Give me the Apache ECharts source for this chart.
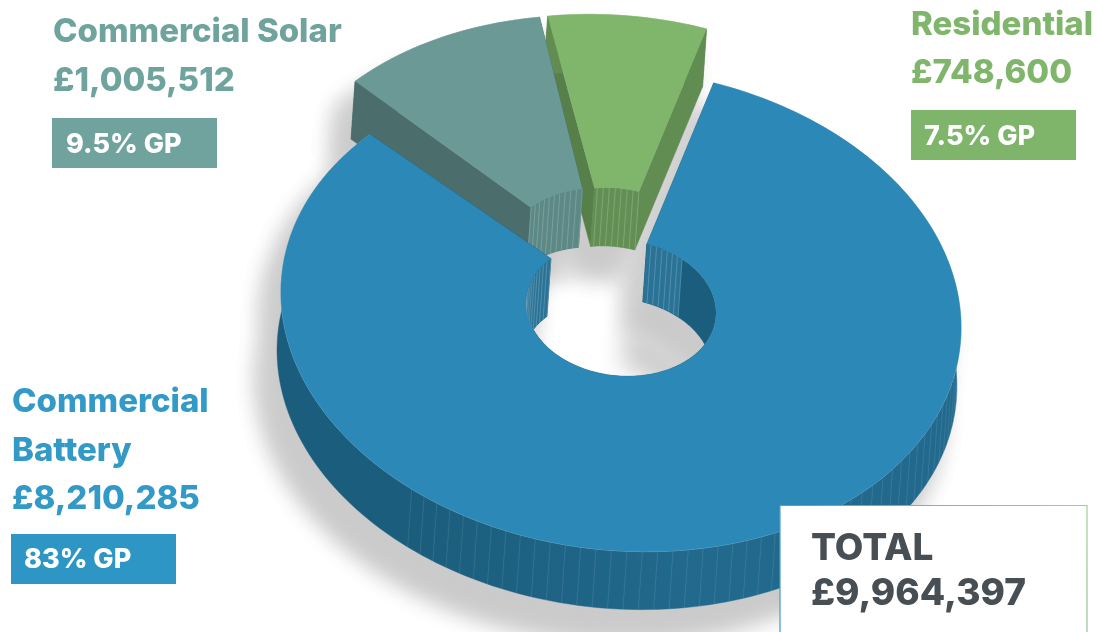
<!DOCTYPE html>
<html>
<head>
<meta charset="utf-8">
<style>html,body{margin:0;padding:0;background:#fff}#chart{width:1097px;height:632px}</style>
<script src="https://cdn.jsdelivr.net/npm/echarts@6/dist/echarts.min.js"></script>
</head>
<body>
<div id="chart"></div>
<script>
// Revenue per sector and its gross profit
const categories = ['Commercial Battery', 'Commercial Solar', 'Residential'];
const revenue = [8210285, 1005512, 748600];
const grossProfit = ['83% GP', '9.5% GP', '7.5% GP'];
const totalLabel = 'TOTAL';

const palette = [
  { top: '#2b88b7', wallA: '#1b5d7c', wallB: '#21698d', side: '#1b5d7c', inner: '#2a7396', rim: '#6fb0cf', text: '#339ac7', box: '#2e96c4' },
  { top: '#6b9995', wallA: '#4b6e6c', wallB: '#4b6e6c', side: '#4b6e6c', inner: '#5c8886', rim: '#9cc0bc', text: '#6fa39d', box: '#70a39d' },
  { top: '#80b56c', wallA: '#618d53', wallB: '#618d53', side: '#567f49', inner: '#638f55', rim: '#a6d094', text: '#80b56c', box: '#7eb56b' }
];

// Projected ring geometry
const view = { cx: 621, cy: 310, rx: 340, ry: 241, holeCy: 308, holeRx: 95, holeRy: 68, shear: 0.052, startDeg: 74.2, depthX: -4, depthY: 58 };
const pull = [
  { ox: 0, oy: 0, ix: 0, iy: 0 },
  { ox: -15, oy: -53, ix: -20, iy: -51 },
  { ox: -7, oy: -54, ix: -8, iy: -52 }
];
const shadowOffset = { x: -17, y: 28 };
const hatch = [
  { outer: [[-128, 0]], inner: [[50, 74.2], [137.5, 218]] },
  { outer: [], inner: [[101.3, 137.5]] },
  { outer: [], inner: [[74.2, 101.3]] }
];

const total = revenue.reduce((a, b) => a + b, 0);
const money = v => '£' + v.toLocaleString('en-GB');

function sweep(i) {
  let used = 0;
  for (let k = 0; k < i; k++) used += revenue[k];
  const hi = view.startDeg - used / total * 360;
  return [hi - revenue[i] / total * 360, hi];
}
function ringPoint(deg, outer, p, shiftX, shiftY) {
  const t = deg * Math.PI / 180;
  const dx = (outer ? view.rx : view.holeRx) * Math.cos(t);
  const dy = -(outer ? view.ry : view.holeRy) * Math.sin(t);
  return [
    view.cx + dx + (outer ? p.ox : p.ix) + (shiftX || 0),
    (outer ? view.cy : view.holeCy) + dx * view.shear + dy + (outer ? p.oy : p.iy) + (shiftY || 0)
  ];
}
function arc(from, to, outer, p, sx, sy) {
  const n = Math.max(2, Math.ceil(Math.abs(to - from) / 1.5));
  const pts = [];
  for (let j = 0; j <= n; j++) pts.push(ringPoint(from + (to - from) * j / n, outer, p, sx, sy));
  return pts;
}
const band = (a, b, outer, p) => arc(a, b, outer, p).concat(arc(b, a, outer, p, view.depthX, view.depthY));
const face = (a, b, p, sx, sy) => arc(a, b, true, p, sx, sy).concat(arc(b, a, false, p, sx, sy));
function radial(deg, p) {
  const o = ringPoint(deg, true, p), n = ringPoint(deg, false, p);
  const d = q => [q[0] + view.depthX, q[1] + view.depthY];
  return [o, n, d(n), d(o)];
}
function hatchLines(range, outer, p, step, color, width) {
  const out = [];
  for (let deg = range[0]; deg <= range[1]; deg += step) {
    const a = ringPoint(deg, outer, p);
    const b = ringPoint(deg, outer, p, view.depthX, view.depthY);
    out.push({ type: 'line', shape: { x1: a[0], y1: a[1], x2: b[0], y2: b[1] }, style: { stroke: color, lineWidth: width } });
  }
  return out;
}

// Soft shadow: each silhouette is drawn off-canvas and only its blur lands on the page
function renderShadow(params) {
  const i = params.dataIndex, p = pull[i], [a, b] = sweep(i);
  const away = 3000;
  const shapes = [face(a, b, p), band(a, b, true, p), band(a, b, false, p), radial(a, p), radial(b, p), face(a, b, p, view.depthX, view.depthY)];
  // The shadow narrows the opening of the ring as it falls away from the body
  if (i === 0) {
    shapes.push(arc(a, b, false, p, view.depthX, view.depthY).concat(arc(b, a, false, p, view.depthX - 4, view.depthY + 38)));
  }
  return {
    type: 'group',
    children: shapes.map(pts => ({
      type: 'polygon',
      shape: { points: pts.map(q => [q[0] - away, q[1]]) },
      style: { fill: '#000', shadowColor: '#cbcbcb', shadowBlur: 24, shadowOffsetX: away + shadowOffset.x, shadowOffsetY: shadowOffset.y }
    }))
  };
}

function renderSlice(params) {
  const i = params.dataIndex, p = pull[i], col = palette[i], [a, b] = sweep(i);
  const kids = [];
  const poly = (pts, fill) => kids.push({ type: 'polygon', shape: { points: pts }, style: { fill: fill, stroke: fill, lineWidth: 0.4 } });
  poly(radial(a, p), col.side === col.wallA ? col.side : col.wallA);
  poly(radial(b, p), col.side);
  poly(band(a, b, true, p), {
    type: 'linear', x: 280, y: 0, x2: 960, y2: 0, global: true,
    colorStops: [{ offset: 0, color: col.wallA }, { offset: 0.2, color: col.wallA }, { offset: 0.6, color: col.wallB }, { offset: 1, color: col.wallB }]
  });
  poly(band(a, b, false, p), col.wallA);
  hatch[i].inner.forEach(r => {
    poly(band(r[0], r[1], false, p), col.inner);
    kids.push(...hatchLines(r, false, p, 3.6, 'rgba(255,255,255,0.28)', 0.7));
  });
  hatch[i].outer.forEach(r => kids.push(...hatchLines(r, true, p, 2.6, 'rgba(255,255,255,0.14)', 0.7)));
  kids.push({ type: 'polyline', shape: { points: arc(a, b, true, p) }, style: { fill: 'none', stroke: col.rim, lineWidth: 0.8 } });
  kids.push({ type: 'polygon', shape: { points: face(a, b, p) }, style: { fill: col.top } });
  return { type: 'group', children: kids.map((k, n) => Object.assign(k, { z2: (3 - i) * 1000 + n })) };
}

// Draw order: far slices first, the large slice last
const sliceData = categories.map((c, i) => ({ name: c, value: revenue[i] }));

const font = (size) => `800 ${size}px Inter, Lato, sans-serif`;
const label = (text, x, base, size, fill) => ({
  type: 'text', z: 50, x: x, y: base - size * 0.84,
  style: { text: text, x: 0, y: 0, font: font(size), fill: fill }
});
const gpBox = (i, x, y) => ({ type: 'rect', z: 49, shape: { x: x, y: y, width: 165, height: 50 }, style: { fill: palette[i].box } });

const graphicItems = [
  label(categories[1], 53, 43, 33, palette[1].text),
  label(money(revenue[1]), 53, 92, 33, palette[1].text),
  gpBox(1, 52, 118),
  label(grossProfit[1], 66, 154, 27, '#fff'),
  label(categories[2], 911, 36, 33, palette[2].text),
  label(money(revenue[2]), 911, 84, 33, palette[2].text),
  gpBox(2, 911, 110),
  label(grossProfit[2], 924, 146, 27, '#fff'),
  label(categories[0].split(' ')[0], 12, 413, 33, palette[0].text),
  label(categories[0].split(' ')[1], 12, 462, 33, palette[0].text),
  label(money(revenue[0]), 12, 510, 33, palette[0].text),
  gpBox(0, 11, 534),
  label(grossProfit[0], 24, 569, 27, '#fff'),
  {
    type: 'rect', z: 48, shape: { x: 780, y: 505.5, width: 307, height: 160 },
    style: {
      fill: '#fff', lineWidth: 1.2,
      stroke: { type: 'linear', x: 0, y: 1, x2: 1, y2: 0, colorStops: [{ offset: 0, color: '#3a97c6' }, { offset: 1, color: '#a2cf8e' }] }
    }
  },
  label(totalLabel, 811, 561, 37, '#474f55'),
  label(money(total), 811, 606, 37, '#474f55')
];

const chart = echarts.init(document.getElementById('chart'), null, { renderer: 'canvas' });
chart.setOption({
  backgroundColor: '#fff',
  animation: false,
  graphic: graphicItems,
  series: [
    { type: 'custom', coordinateSystem: 'none', z: 1, silent: true, renderItem: renderShadow, data: sliceData },
    { type: 'custom', coordinateSystem: 'none', z: 2, silent: true, renderItem: renderSlice, data: sliceData }
  ]
});
</script>
</body>
</html>
